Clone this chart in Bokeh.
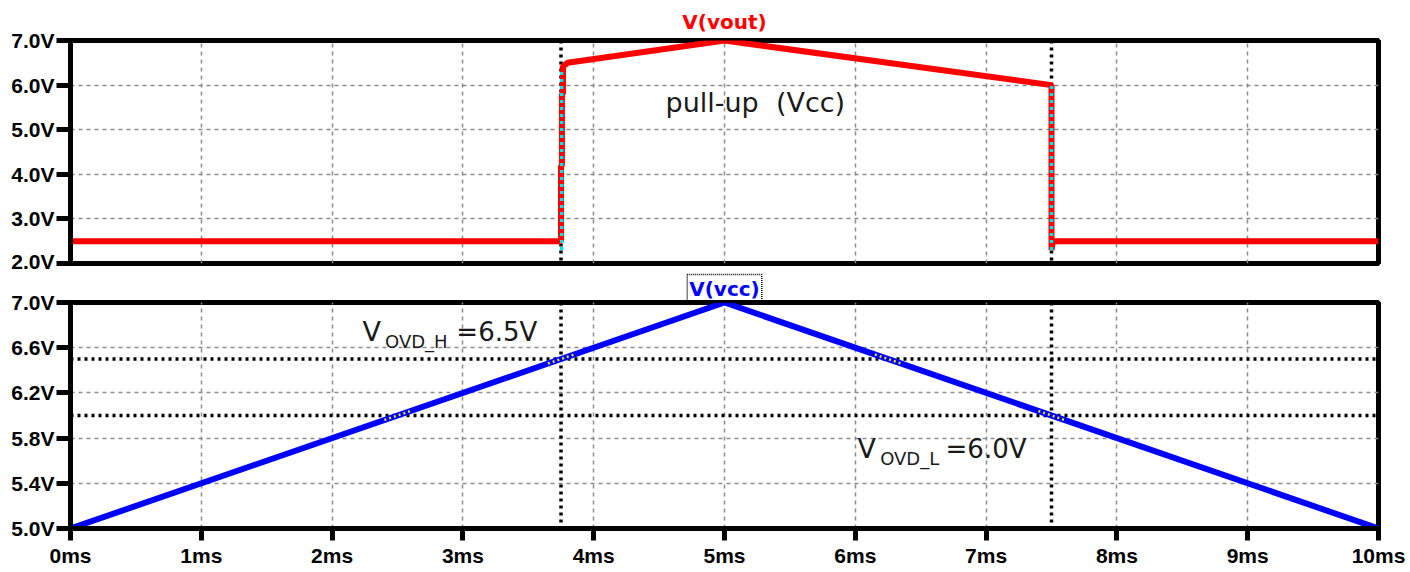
from bokeh.plotting import figure
from bokeh.layouts import column
from bokeh.models import Range1d, FixedTicker, Label, Span
from bokeh.embed import file_html
from bokeh.resources import INLINE

# ---------------- data ----------------
x_ticks = [0, 1, 2, 3, 4, 5, 6, 7, 8, 9, 10]
x_tick_labels = ["0ms", "1ms", "2ms", "3ms", "4ms", "5ms", "6ms", "7ms", "8ms", "9ms", "10ms"]

top_y_ticks = [2.0, 3.0, 4.0, 5.0, 6.0, 7.0]
top_y_labels = ["2.0V", "3.0V", "4.0V", "5.0V", "6.0V", "7.0V"]

bot_y_ticks = [5.0, 5.4, 5.8, 6.2, 6.6, 7.0]
bot_y_labels = ["5.0V", "5.4V", "5.8V", "6.2V", "6.6V", "7.0V"]

# V(vout) trace (ms, V)
vout_t = [0.0, 3.75, 3.75, 3.757, 3.757, 3.765, 3.765, 3.80, 5.0, 7.5, 7.5, 7.51, 10.0]
vout_v = [2.5, 2.5, 4.2, 4.2, 5.8, 5.8, 6.42, 6.5, 7.0, 6.0, 2.3, 2.5, 2.5]

# comparator transition overlays (cyan dotted)
rise_t = [3.755, 3.755]
rise_v = [2.3, 6.3]
fall_t = [7.5, 7.5]
fall_v = [2.3, 6.0]

# V(vcc) trace (ms, V)
vcc_t = [0.0, 5.0, 10.0]
vcc_v = [5.0, 7.0, 5.0]

# cursor markers
switch_times = [3.75, 7.5]
thresholds = [6.5, 6.0]

# yellow intersection marks on V(vcc)
cross_t = [[2.4, 2.6], [3.65, 3.85], [6.15, 6.35], [7.4, 7.6]]
cross_v = [[5.96, 6.04], [6.46, 6.54], [6.54, 6.46], [6.04, 5.96]]

TICK_FONT = "Liberation Sans"
ANN_FONT = "DejaVu Sans"


def style(p, yticks, ylabels):
    p.outline_line_color = "black"
    p.outline_line_width = 5
    p.background_fill_color = "white"
    p.border_fill_color = "white"
    p.x_range = Range1d(0, 10)
    p.xgrid.ticker = FixedTicker(ticks=x_ticks)
    p.ygrid.ticker = FixedTicker(ticks=yticks)
    for g in (p.xgrid, p.ygrid):
        g.grid_line_color = "#8a8a8a"
        g.grid_line_dash = "4 4"
        g.grid_line_width = 1.5
    ax = p.yaxis[0]
    ax.ticker = FixedTicker(ticks=yticks)
    ax.major_label_overrides = {t: l for t, l in zip(yticks, ylabels)}
    ax.axis_line_width = 5
    ax.major_tick_line_width = 5
    ax.major_tick_out = 14
    ax.major_tick_in = 0
    ax.minor_tick_line_color = None
    ax.major_label_standoff = 2
    ax.major_label_text_font = TICK_FONT
    ax.major_label_text_font_style = "bold"
    ax.major_label_text_font_size = "21px"
    ax.major_label_text_color = "black"


# ---------------- top panel: V(vout) ----------------
p1 = figure(width=1410, height=272, output_backend="svg", toolbar_location=None,
            min_border_left=70, min_border_right=32, min_border_top=40, min_border_bottom=9)
style(p1, top_y_ticks, top_y_labels)
p1.y_range = Range1d(2.0, 7.0)
p1.xaxis.visible = False
p1.title.text = "V(vout)"
p1.title.align = "center"
p1.title.text_color = "#ff0000"
p1.title.text_font = ANN_FONT
p1.title.text_font_style = "bold"
p1.title.text_font_size = "20px"
p1.title.standoff = 13

for t in switch_times:
    p1.add_layout(Span(location=t, dimension="height", line_color="black",
                       line_dash="3 4", line_width=3.5, level="underlay"))

p1.line(vout_t, vout_v, line_color="#ff0000", line_width=6)
p1.line(rise_t, rise_v, line_color="#00e8e8", line_width=3.5, line_dash="3 4")
p1.line(fall_t, fall_v, line_color="#00e8e8", line_width=3.5, line_dash="3 4")

p1.add_layout(Label(x=4.549, y=5.62, text="pull-up\u00a0\u00a0(Vcc)", text_font=ANN_FONT,
                    text_font_size="27px", text_color="#1a1a1a",
                    text_align="left", text_baseline="middle"))

# ---------------- bottom panel: V(vcc) ----------------
p2 = figure(width=1410, height=300, output_backend="svg", toolbar_location=None,
            min_border_left=70, min_border_right=32, min_border_top=28, min_border_bottom=44)
style(p2, bot_y_ticks, bot_y_labels)
p2.y_range = Range1d(5.0, 7.0)
xa = p2.xaxis[0]
xa.ticker = FixedTicker(ticks=x_ticks)
xa.major_label_overrides = {t: l for t, l in zip(x_ticks, x_tick_labels)}
xa.axis_line_width = 5
xa.major_tick_line_width = 5
xa.major_tick_out = 12
xa.major_tick_in = 0
xa.minor_tick_line_color = None
xa.major_label_standoff = 3
xa.major_label_text_font = TICK_FONT
xa.major_label_text_font_style = "bold"
xa.major_label_text_font_size = "21px"
xa.major_label_text_color = "black"

p2.title.text = "V(vcc)"
p2.title.align = "center"
p2.title.text_color = "#0000ff"
p2.title.text_font = ANN_FONT
p2.title.text_font_style = "bold"
p2.title.text_font_size = "20px"
p2.title.standoff = 0
p2.title.border_line_color = "black"
p2.title.border_line_dash = "1 1"
p2.title.border_line_width = 1.5
p2.title.padding = 2

for t in switch_times:
    p2.add_layout(Span(location=t, dimension="height", line_color="black",
                       line_dash="3 4", line_width=3.5, level="underlay"))
for v in thresholds:
    p2.add_layout(Span(location=v, dimension="width", line_color="black",
                       line_dash="3 4", line_width=3.5, level="underlay"))

p2.line(vcc_t, vcc_v, line_color="#0000ff", line_width=6)
p2.multi_line(cross_t, cross_v, line_color="#e8e800", line_width=2.5, line_dash="2 3")

ann = dict(text_font=ANN_FONT, text_color="#1a1a1a", text_align="left", text_baseline="middle")
p2.add_layout(Label(x=2.232, y=6.741, text="V", text_font_size="27px", **ann))
p2.add_layout(Label(x=2.405, y=6.658, text="OVD_H", text_font_size="18px", **ann))
p2.add_layout(Label(x=2.95, y=6.741, text="=6.5V", text_font_size="26px", **ann))

p2.add_layout(Label(x=6.017, y=5.706, text="V", text_font_size="27px", **ann))
p2.add_layout(Label(x=6.19, y=5.623, text="OVD_L", text_font_size="18px", **ann))
p2.add_layout(Label(x=6.69, y=5.706, text="=6.0V", text_font_size="26px", **ann))

layout = column(p1, p2, spacing=0)
open("out.html", "w").write(file_html(layout, INLINE))
